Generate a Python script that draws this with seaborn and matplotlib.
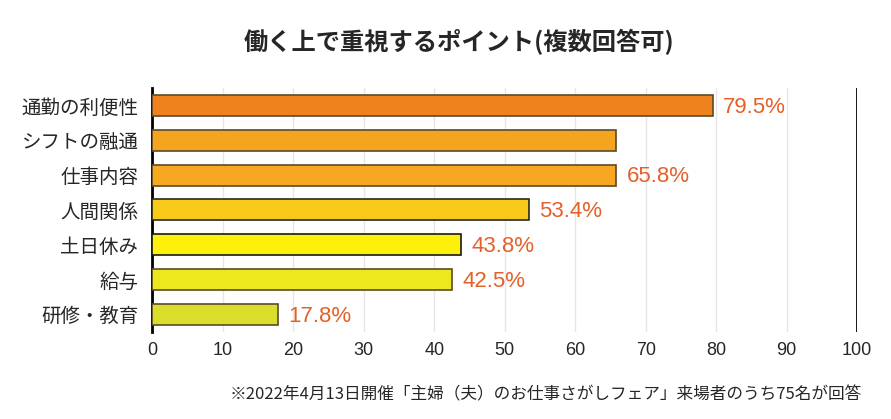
import matplotlib
matplotlib.use("Agg")
import matplotlib.pyplot as plt
import seaborn as sns
import pandas as pd

# data
items = ["通勤の利便性", "シフトの融通", "仕事内容", "人間関係", "土日休み", "給与", "研修・教育"]
values = [79.5, 65.8, 65.8, 53.4, 43.8, 42.5, 17.8]
labels = ["79.5%", "", "65.8%", "53.4%", "43.8%", "42.5%", "17.8%"]
bar_colors = ["#F0821E", "#F4A41F", "#F5A820", "#F9C91A", "#FDF00C", "#EDE71E", "#D8DE2A"]
edge_colors = ["#5A4A2A", "#5A4A2A", "#5A4A2A", "#2A2A1A", "#1A1A10", "#5A4A2A", "#5A4A2A"]
ticks = list(range(0, 101, 10))

title = "働く上で重視するポイント(複数回答可)"
note = "※2022年4月13日開催「主婦（夫）のお仕事さがしフェア」来場者のうち75名が回答"

sns.set_style("white")
plt.rcParams["font.family"] = ["Noto Sans CJK JP", "DejaVu Sans"]

df = pd.DataFrame({"item": items, "value": values})

fig = plt.figure(figsize=(8.91, 4.19), dpi=100)
ax = fig.add_axes([0.171, 0.208, 0.791, 0.582])

sns.barplot(data=df, x="value", y="item", hue="item", palette=bar_colors,
            saturation=1, legend=False, width=0.6, linewidth=1.2, ax=ax, zorder=3)
for bar, ec in zip(ax.patches, edge_colors):
    bar.set_edgecolor(ec)

for i, (v, lab) in enumerate(zip(values, labels)):
    if lab:
        ax.text(v + 1.5, i + 0.05, lab, va="center", ha="left", fontsize=16,
                color="#E4602A", family=["Liberation Sans", "DejaVu Sans"])

ax.set_xlim(0, 100)
ax.set_ylim(6.5, -0.5)
ax.set_xticks(ticks)
ax.set_xticklabels([str(t) for t in ticks], family=["Liberation Sans", "DejaVu Sans"], fontsize=13)
ax.tick_params(axis="y", labelsize=14, length=0, pad=10)
ax.tick_params(axis="x", length=0, pad=7)
ax.set_xlabel("")
ax.set_ylabel("")
for t in ticks[1:-1]:
    ax.axvline(t, color="#E6E6E6", lw=1, zorder=0)
ax.axvline(100, color="black", lw=2, zorder=4)

ax.spines["top"].set_visible(False)
ax.spines["bottom"].set_visible(False)
ax.spines["right"].set_visible(False)
ax.spines["left"].set_color("black")
ax.spines["left"].set_linewidth(2)

fig.text(0.515, 0.9, title, ha="center", va="center", fontsize=17.5, fontweight="bold")
fig.text(0.967, 0.057, note, ha="right", va="center", fontsize=12)

fig.savefig("out.png", dpi=100)
